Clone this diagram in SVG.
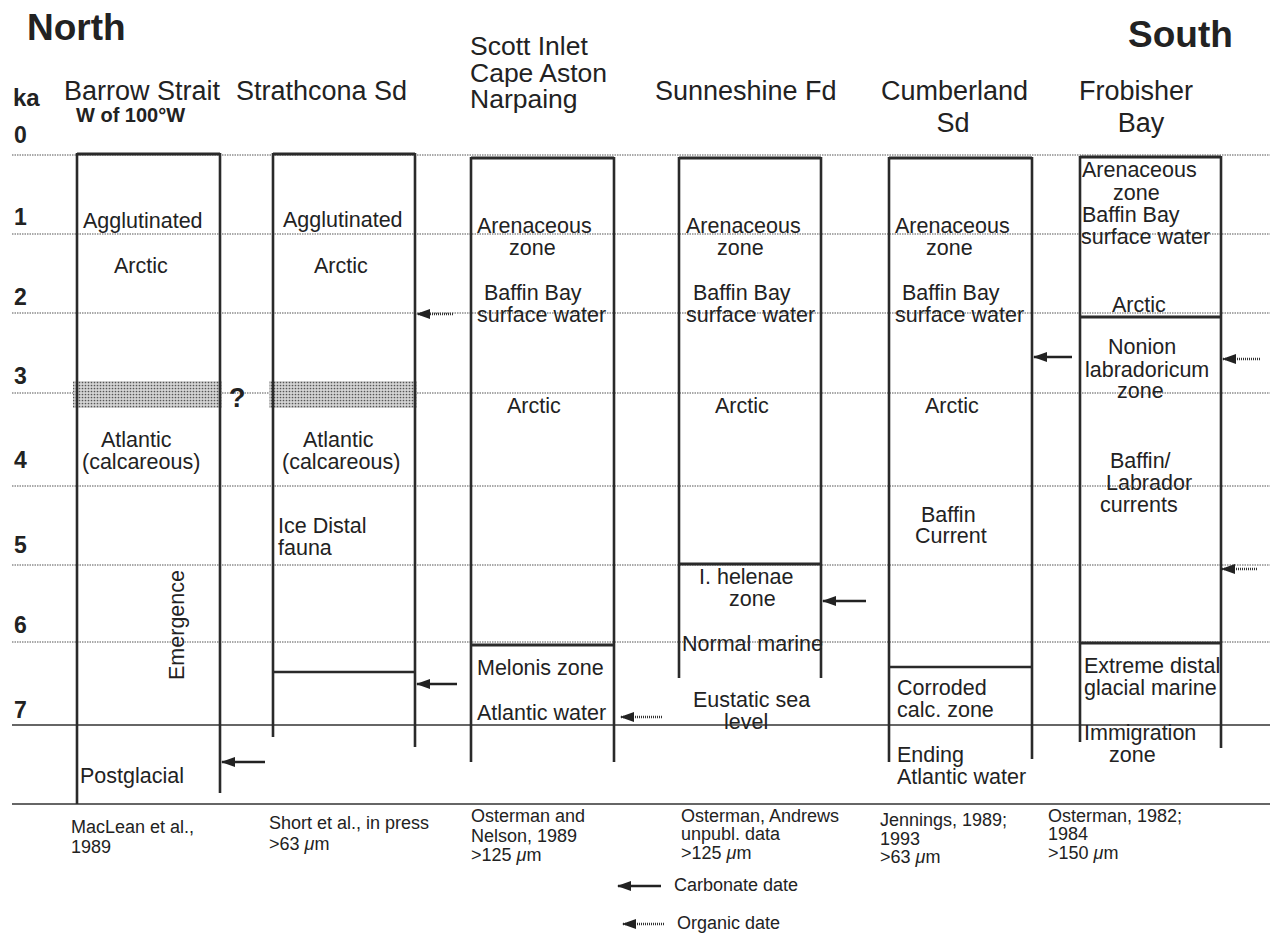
<svg xmlns="http://www.w3.org/2000/svg" width="1273" height="936" viewBox="0 0 1273 936">
<style>
text{font-family:"Liberation Sans",Arial,sans-serif;fill:#222}
.b{font-size:21.5px}
.h{font-size:27px}
.r{font-size:18px}
.bold{font-weight:bold}
.dot{stroke:#555;stroke-width:1.2;stroke-dasharray:1.5 1;fill:none}
.sol{stroke:#333;stroke-width:1.6;fill:none}
.col{stroke:#2a2a2a;stroke-width:2.6;fill:none}
.top{stroke:#2a2a2a;stroke-width:3.2;fill:none}
.carb{stroke:#222;stroke-width:2.6;fill:none}
.org{stroke:#333;stroke-width:2.4;stroke-dasharray:1 1;fill:none}
</style>
<defs>
<marker id="ah" markerUnits="userSpaceOnUse" markerWidth="14" markerHeight="10" refX="13" refY="5" orient="auto">
<path d="M0,0 L14,5 L0,10 z" fill="#222"/>
</marker>
<pattern id="stip" width="3" height="3" patternUnits="userSpaceOnUse">
<rect width="3" height="3" fill="#d4d4d4"/>
<circle cx="1.5" cy="1.5" r="0.85" fill="#555"/>
</pattern>
</defs>
<rect width="1273" height="936" fill="#fff"/>

<g id="titles">
<text x="27" y="40" class="bold" font-size="37">North</text>
<text x="1128" y="47" class="bold" font-size="37">South</text>
<text x="13" y="106" class="bold" font-size="24">ka</text>
<text x="14" y="143" class="bold" font-size="23">0</text>
<text x="14" y="225" class="bold" font-size="23">1</text>
<text x="14" y="305" class="bold" font-size="23">2</text>
<text x="14" y="384" class="bold" font-size="23">3</text>
<text x="14" y="468" class="bold" font-size="23">4</text>
<text x="14" y="553" class="bold" font-size="23">5</text>
<text x="14" y="633" class="bold" font-size="23">6</text>
<text x="14" y="718" class="bold" font-size="23">7</text>
</g>

<g id="grid">
<line class="dot" x1="12" y1="155" x2="1270" y2="155"/>
<line class="dot" x1="12" y1="234" x2="1270" y2="234"/>
<line class="dot" x1="12" y1="313" x2="1270" y2="313"/>
<line class="dot" x1="12" y1="393" x2="1270" y2="393"/>
<line class="dot" x1="12" y1="486" x2="1270" y2="486"/>
<line class="dot" x1="12" y1="565" x2="1270" y2="565"/>
<line class="dot" x1="12" y1="642" x2="1270" y2="642"/>
<line class="sol" x1="12" y1="725" x2="1270" y2="725"/>
<line class="sol" x1="12" y1="804" x2="1270" y2="804"/>
</g>

<g id="barrow-strait">
<text x="64" y="100" class="h">Barrow Strait</text>
<text x="76" y="122" class="bold" font-size="20">W of 100°W</text>
<rect x="73" y="381" width="149" height="27" fill="url(#stip)"/>
<line class="top" x1="77" y1="154" x2="220" y2="154"/>
<line class="col" x1="77" y1="153" x2="77" y2="804"/>
<line class="col" x1="220" y1="153" x2="220" y2="793"/>
<text x="83" y="228" class="b">Agglutinated</text>
<text x="114" y="273" class="b">Arctic</text>
<text x="101" y="447" class="b">Atlantic</text>
<text x="82" y="469" class="b">(calcareous)</text>
<text x="177" y="625" class="b" text-anchor="middle" transform="rotate(-90 177 625)" dy="7">Emergence</text>
<text x="80" y="783" class="b">Postglacial</text>
<text x="229" y="407" class="bold" font-size="27">?</text>
<text x="71" y="833" class="r">MacLean et al.,</text>
<text x="71" y="853" class="r">1989</text>
</g>

<g id="strathcona-sd">
<text x="236" y="100" class="h">Strathcona Sd</text>
<rect x="269" y="381" width="148" height="27" fill="url(#stip)"/>
<line class="top" x1="273" y1="154" x2="415" y2="154"/>
<line class="col" x1="273" y1="153" x2="273" y2="737"/>
<line class="col" x1="415" y1="153" x2="415" y2="747"/>
<line class="col" x1="273" y1="672" x2="415" y2="672"/>
<text x="283" y="227" class="b">Agglutinated</text>
<text x="314" y="273" class="b">Arctic</text>
<text x="303" y="447" class="b">Atlantic</text>
<text x="282" y="469" class="b">(calcareous)</text>
<text x="278" y="533" class="b">Ice Distal</text>
<text x="278" y="555" class="b">fauna</text>
<text x="269" y="829" class="r">Short et al., in press</text>
<text x="269" y="850" class="r">&gt;63 <tspan font-style="italic">μ</tspan>m</text>
</g>

<g id="scott-inlet">
<text x="470" y="55" font-size="26.5">Scott Inlet</text>
<text x="470" y="82" font-size="26.5">Cape Aston</text>
<text x="470" y="108" font-size="26.5">Narpaing</text>
<line class="top" x1="471" y1="158" x2="614" y2="158"/>
<line class="col" x1="471" y1="157" x2="471" y2="762"/>
<line class="col" x1="614" y1="157" x2="614" y2="762"/>
<line class="top" x1="471" y1="645" x2="614" y2="645"/>
<text x="477" y="233" class="b">Arenaceous</text>
<text x="509" y="255" class="b">zone</text>
<text x="484" y="300" class="b">Baffin Bay</text>
<text x="477" y="322" class="b">surface water</text>
<text x="507" y="413" class="b">Arctic</text>
<text x="477" y="675" class="b">Melonis zone</text>
<text x="477" y="720" class="b">Atlantic water</text>
<text x="471" y="822" class="r">Osterman and</text>
<text x="471" y="842" class="r">Nelson, 1989</text>
<text x="471" y="861" class="r">&gt;125 <tspan font-style="italic">μ</tspan>m</text>
</g>

<g id="sunneshine-fd">
<text x="655" y="100" class="h">Sunneshine Fd</text>
<line class="top" x1="679" y1="158" x2="821" y2="158"/>
<line class="col" x1="679" y1="157" x2="679" y2="678"/>
<line class="col" x1="821" y1="157" x2="821" y2="678"/>
<line class="top" x1="679" y1="564" x2="821" y2="564"/>
<text x="686" y="233" class="b">Arenaceous</text>
<text x="717" y="255" class="b">zone</text>
<text x="693" y="300" class="b">Baffin Bay</text>
<text x="686" y="322" class="b">surface water</text>
<text x="715" y="413" class="b">Arctic</text>
<text x="699" y="584" class="b">I. helenae</text>
<text x="729" y="606" class="b">zone</text>
<text x="682" y="651" class="b">Normal marine</text>
<text x="693" y="707" class="b">Eustatic sea</text>
<text x="724" y="729" class="b">level</text>
<text x="681" y="822" class="r">Osterman, Andrews</text>
<text x="681" y="840" class="r">unpubl. data</text>
<text x="681" y="859" class="r">&gt;125 <tspan font-style="italic">μ</tspan>m</text>
</g>

<g id="cumberland-sd">
<text x="881" y="100" class="h">Cumberland</text>
<text x="953" y="132" class="h" text-anchor="middle">Sd</text>
<line class="top" x1="889" y1="158" x2="1032" y2="158"/>
<line class="col" x1="889" y1="157" x2="889" y2="762"/>
<line class="col" x1="1032" y1="157" x2="1032" y2="759"/>
<line class="col" x1="889" y1="667" x2="1032" y2="667"/>
<text x="895" y="233" class="b">Arenaceous</text>
<text x="926" y="255" class="b">zone</text>
<text x="902" y="300" class="b">Baffin Bay</text>
<text x="895" y="322" class="b">surface water</text>
<text x="925" y="413" class="b">Arctic</text>
<text x="921" y="522" class="b">Baffin</text>
<text x="915" y="543" class="b">Current</text>
<text x="897" y="695" class="b">Corroded</text>
<text x="897" y="717" class="b">calc. zone</text>
<text x="897" y="762" class="b">Ending</text>
<text x="897" y="784" class="b">Atlantic water</text>
<text x="880" y="826" class="r">Jennings, 1989;</text>
<text x="880" y="845" class="r">1993</text>
<text x="880" y="863" class="r">&gt;63 <tspan font-style="italic">μ</tspan>m</text>
</g>

<g id="frobisher-bay">
<text x="1079" y="100" class="h">Frobisher</text>
<text x="1141" y="132" class="h" text-anchor="middle">Bay</text>
<line class="top" x1="1080" y1="157" x2="1221" y2="157"/>
<line class="col" x1="1080" y1="156" x2="1080" y2="742"/>
<line class="col" x1="1221" y1="156" x2="1221" y2="748"/>
<line class="top" x1="1080" y1="317" x2="1221" y2="317"/>
<line class="top" x1="1080" y1="643" x2="1221" y2="643"/>
<text x="1082" y="177" class="b">Arenaceous</text>
<text x="1113" y="200" class="b">zone</text>
<text x="1082" y="222" class="b">Baffin Bay</text>
<text x="1081" y="244" class="b">surface water</text>
<text x="1112" y="312" class="b">Arctic</text>
<text x="1108" y="354" class="b">Nonion</text>
<text x="1085" y="377" class="b">labradoricum</text>
<text x="1117" y="398" class="b">zone</text>
<text x="1110" y="468" class="b">Baffin/</text>
<text x="1106" y="490" class="b">Labrador</text>
<text x="1100" y="512" class="b">currents</text>
<text x="1084" y="673" class="b">Extreme distal</text>
<text x="1084" y="695" class="b">glacial marine</text>
<text x="1084" y="740" class="b">Immigration</text>
<text x="1109" y="762" class="b">zone</text>
<text x="1048" y="822" class="r">Osterman, 1982;</text>
<text x="1048" y="840" class="r">1984</text>
<text x="1048" y="859" class="r">&gt;150 <tspan font-style="italic">μ</tspan>m</text>
</g>

<g id="connectors">
<line class="carb" x1="265" y1="762" x2="222" y2="762" marker-end="url(#ah)"/>
<line class="carb" x1="457" y1="684" x2="417" y2="684" marker-end="url(#ah)"/>
<line class="carb" x1="866" y1="601" x2="823" y2="601" marker-end="url(#ah)"/>
<line class="carb" x1="1072" y1="357" x2="1034" y2="357" marker-end="url(#ah)"/>
<line class="org" x1="453" y1="314" x2="417" y2="314" marker-end="url(#ah)"/>
<line class="org" x1="662" y1="717" x2="621" y2="717" marker-end="url(#ah)"/>
<line class="org" x1="1260" y1="359" x2="1223" y2="359" marker-end="url(#ah)"/>
<line class="org" x1="1257" y1="569" x2="1222" y2="569" marker-end="url(#ah)"/>
</g>

<g id="legend">
<line class="carb" x1="661" y1="886" x2="618" y2="886" marker-end="url(#ah)"/>
<text x="674" y="891" class="r">Carbonate date</text>
<line class="org" x1="664" y1="924" x2="623" y2="924" marker-end="url(#ah)"/>
<text x="677" y="929" class="r">Organic date</text>
</g>
</svg>
